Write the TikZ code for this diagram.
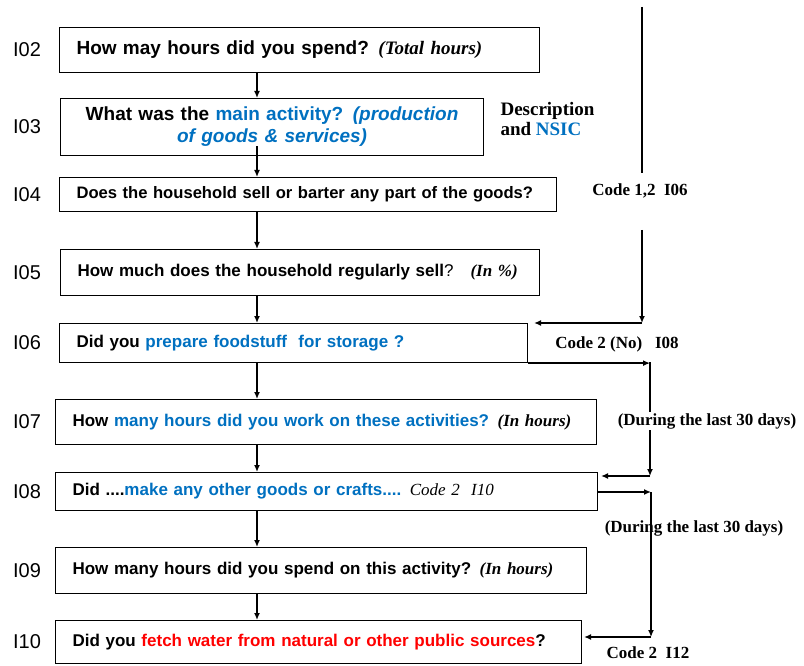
\documentclass[tikz,border=0pt]{standalone}
\usepackage{fontspec}
\setmainfont{Liberation Serif}
\setsansfont{Liberation Sans}
\usetikzlibrary{arrows.meta}
\definecolor{qblue}{RGB}{0,112,192}

\begin{document}
\begin{tikzpicture}[x=1pt,y=1pt,
qbox/.style={draw, line width=1.1pt, anchor=north west, align=left,
  inner xsep=17pt, inner ysep=0pt,
  font=\sffamily\bfseries\fontsize{17}{20}\selectfont},
bigq/.style={font=\sffamily\bfseries\fontsize{19}{22}\selectfont},
qnum/.style={font=\sffamily\fontsize{20}{24}\selectfont},
note/.style={font=\bfseries\fontsize{17}{20}\selectfont},
plain/.style={line width=1.3pt},
link/.style={line width=1.3pt, -{Latex[length=7pt,width=6pt]}}]
\useasboundingbox (0,0) rectangle (804,-666);
\coordinate (numcol) at (27,0);
\coordinate (spine) at (257,0);

\node[qbox, bigq, text width=446pt, minimum height=45pt] (q02) at (59,-27)
  {How may hours did you spend? {\rmfamily\itshape (Total hours)}};
\node[qbox, bigq, text width=389pt, minimum height=57pt, align=center] (q03) at (60,-98)
  {What was the \textcolor{qblue}{main activity? \itshape(production}\\
   \textcolor{qblue}{\itshape of goods \& services)}};
\node[qbox, text width=463pt, minimum height=34pt, font=\sffamily\bfseries\fontsize{16.6}{20}\selectfont] (q04) at (59,-177)
  {\mbox{Does the household sell or barter any part of the goods?}};
\node[qbox, text width=445pt, minimum height=46pt] (q05) at (60,-249)
  {How much does the household regularly sell{\mdseries ?}\quad{\rmfamily\itshape (In \%)}};
\node[qbox, text width=434pt, minimum height=39pt] (q06) at (59,-323)
  {Did you \textcolor{qblue}{prepare foodstuff\ \ for storage ?}};
\node[qbox, text width=507pt, minimum height=45pt] (q07) at (55,-399)
  {How \textcolor{qblue}{many hours did you work on these activities?} {\rmfamily\itshape (In hours)}};
\node[qbox, text width=508pt, minimum height=38pt] (q08) at (55,-472)
  {Did ....\textcolor{qblue}{make any other goods or crafts....} {\rmfamily\mdseries\itshape Code 2\ \ I10}};
\node[qbox, text width=497pt, minimum height=46pt] (q09) at (55,-547)
  {How many hours did you spend on this activity? {\rmfamily\itshape (In hours)}};
\node[qbox, text width=492pt, minimum height=43pt] (q10) at (55,-620)
  {Did you \textcolor{red}{fetch water from natural or other public sources}?};

\foreach \n in {02,03,04,05,06,07,08,09,10}
  \node[qnum] (n\n) at (q\n.west -| numcol) {I\n};

\foreach \a/\b in {02/03,04/05,05/06,06/07,07/08,08/09,09/10}
  \draw[link] (q\a.south -| spine) -- (q\b.north -| spine);
\draw[link] ([yshift=10pt]q03.south -| spine) -- (q04.north -| spine);

\node[anchor=west, align=left, font=\bfseries\fontsize{19}{20}\selectfont] (desc) at (497,-119)
  {Description\\and \textcolor{qblue}{NSIC}};
\node[note] (c12) at (640,-191) {Code 1,2\ \ I06};
\node[note] (c2no) at (617,-344) {Code 2 (No)\ \ \ I08};
\node[note] (days2) at (694,-528) {(During the last 30 days)};
\node[note] (c2i12) at (648,-653) {Code 2\ \ I12};

\coordinate (a1) at (642,-7);
\coordinate (a2) at (642,-173);
\draw[plain] (a1) -- (a2);
\coordinate (b1) at (642,-230);
\coordinate (b2) at (642,-323);
\draw[link] (b1) -- (b2);
\draw[link, shorten >=6pt] (b2) -- (b2 -| q06.east);
\coordinate (d1) at (650,-362);
\coordinate (d2) at (650,-476);
\draw[link] (q06.south east) -- (q06.south east -| d1);
\draw[link] (d1) -- (d2);
\draw[link, shorten >=3pt] (d2) -- (d2 -| q08.east);
\coordinate (e1) at (651,-492);
\coordinate (e2) at (651,-637);
\draw[link] (q08.east |- e1) -- (e1);
\draw[link] (e1) -- (e2);
\draw[link, shorten >=2pt] (e2) -- (e2 -| q10.east);

\node[note, fill=white, inner sep=1pt] (days1) at (707,-421) {(During the last 30 days)};
\end{tikzpicture}
\end{document}
